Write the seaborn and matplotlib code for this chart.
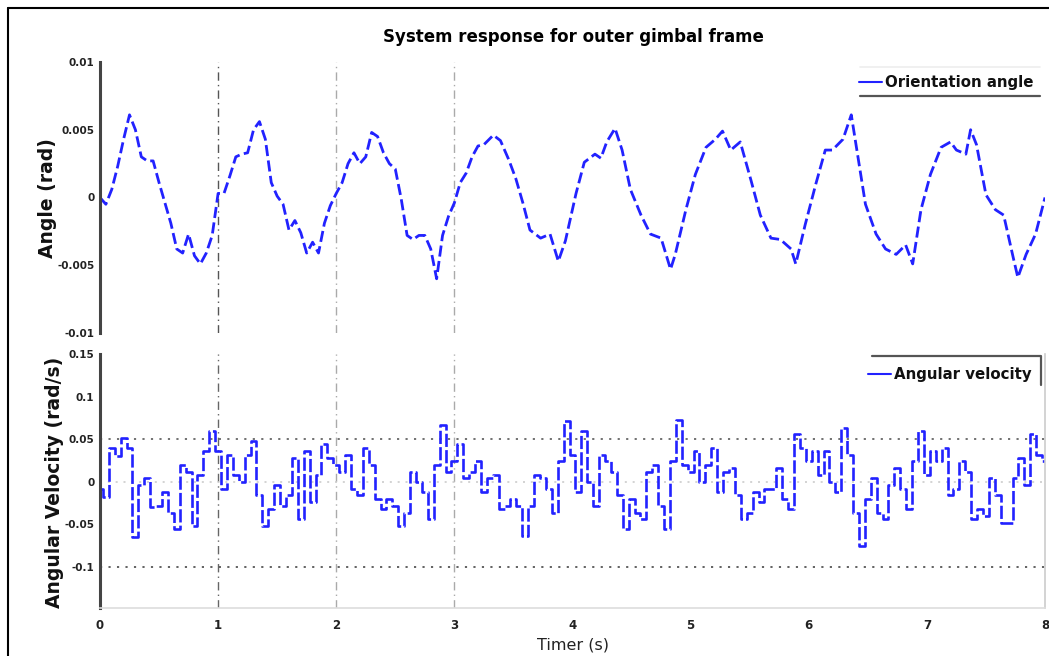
import numpy as np
import pandas as pd
import matplotlib
matplotlib.use("Agg")
import matplotlib.pyplot as plt
import seaborn as sns
from matplotlib.lines import Line2D

# ---------------- data ----------------
angle_t = [0.0, 0.05, 0.1, 0.15, 0.2, 0.25, 0.3, 0.35, 0.4, 0.45, 0.5, 0.55, 0.6, 0.65,
           0.7, 0.75, 0.8, 0.85, 0.9, 0.95, 1.0, 1.05, 1.1, 1.15, 1.2, 1.25, 1.3, 1.35,
           1.4, 1.45, 1.5, 1.55, 1.6, 1.65, 1.7, 1.75, 1.8, 1.85, 1.9, 1.95, 2.0, 2.05,
           2.1, 2.15, 2.2, 2.25, 2.3, 2.35, 2.4, 2.45, 2.5, 2.55, 2.6, 2.65, 2.7, 2.75,
           2.8, 2.85, 2.9, 2.95, 3.0, 3.05, 3.1, 3.15, 3.2, 3.25,
           3.33, 3.39, 3.46, 3.52, 3.58, 3.64, 3.73, 3.81, 3.88, 3.94, 4.03, 4.1, 4.19,
           4.24, 4.29, 4.36, 4.42, 4.49, 4.58, 4.66, 4.75, 4.83, 4.87, 4.96, 5.04, 5.13,
           5.21, 5.27, 5.34, 5.42, 5.51, 5.59, 5.68, 5.76, 5.85, 5.89, 5.97, 6.06, 6.14,
           6.2, 6.29, 6.36, 6.42, 6.48, 6.57, 6.65, 6.74, 6.82, 6.88, 6.95, 7.03, 7.12,
           7.2, 7.25, 7.33, 7.37, 7.42, 7.5, 7.58, 7.65, 7.73, 7.77, 7.84, 7.92, 8.0]
angle_v = [0.0, -0.0005, 0.0006, 0.0023, 0.0043, 0.0061, 0.005, 0.003, 0.0027, 0.0027,
           0.0011, -0.0004, -0.0019, -0.0038, -0.0041, -0.0027, -0.0043, -0.0049, -0.0041,
           -0.0028, 0.0003, 0.0003, 0.0016, 0.003, 0.0032, 0.0033, 0.005, 0.0056, 0.0043,
           0.0011, 0.0001, -0.0005, -0.0024, -0.0017, -0.0026, -0.0041, -0.0033, -0.0041,
           -0.0019, -0.0006, 0.0003, 0.0011, 0.0025, 0.0033, 0.0025, 0.003, 0.0048, 0.0045,
           0.0033, 0.0025, 0.0021, -0.0001, -0.0028, -0.0031, -0.0028, -0.0028, -0.0038,
           -0.006, -0.0028, -0.0014, -0.0004, 0.0011, 0.0018, 0.003, 0.0038, 0.0039,
           0.0046, 0.0042, 0.0028, 0.0014, -0.0004, -0.0024, -0.003, -0.0027, -0.0047,
           -0.0032, 0.0003, 0.0026, 0.0032, 0.0029, 0.0041, 0.0051, 0.0035, 0.0006,
           -0.0013, -0.0027, -0.003, -0.0053, -0.0042, -0.0009, 0.0017, 0.0037, 0.0043,
           0.0049, 0.0035, 0.0041, 0.0013, -0.0013, -0.003, -0.0031, -0.0038, -0.0049,
           -0.002, 0.001, 0.0035, 0.0035, 0.0043, 0.0061, 0.0028, -0.0005, -0.0027,
           -0.0038, -0.0042, -0.0035, -0.0049, -0.0009, 0.0017, 0.0037, 0.0041, 0.0035,
           0.0032, 0.005, 0.0039, 0.0002, -0.0009, -0.0013, -0.0044, -0.0059, -0.0042,
           -0.0027, 0.0]

vel_t = [round(0.05 * i, 2) for i in range(161)]
vel_v = [-0.008, -0.018, 0.04, 0.03, 0.052, 0.04, -0.065, -0.004, 0.004, -0.03,
         -0.028, -0.012, -0.036, -0.055, 0.02, 0.012, -0.052, 0.008, 0.036, 0.06, 0.036,
         -0.008, 0.032, 0.008, 0.0, 0.032, 0.048, -0.016, -0.052, -0.032, -0.004,
         -0.028, -0.016, 0.028, -0.044, 0.036, -0.024, 0.008, 0.044, 0.028, 0.02,
         0.012, 0.032, -0.008, -0.016, 0.04, 0.02, -0.02, -0.032, -0.02, -0.028,
         -0.052, -0.036, 0.012, 0.0, -0.012, -0.044, 0.02, 0.067, 0.012, 0.024,
         0.044, 0.004, 0.012, 0.024, -0.012, 0.004, 0.008, -0.032, -0.028, -0.02,
         -0.028, -0.064, -0.028, 0.008, 0.004, -0.008, -0.036, 0.024, 0.071, 0.032,
         -0.012, 0.06, 0.0, -0.028, 0.032, 0.024, 0.012, -0.016, -0.055, -0.02,
         -0.036, -0.044, 0.012, 0.02, -0.028, -0.055, 0.024, 0.072, 0.02, 0.012,
         0.036, 0.0, 0.02, 0.04, -0.012, 0.012, 0.016, -0.016, -0.044, -0.036,
         -0.012, -0.024, -0.008, -0.008, 0.016, -0.02, -0.032, 0.056, 0.04, 0.024,
         0.036, 0.008, 0.036, 0.0, -0.012, 0.063, 0.032, -0.036, -0.075, -0.02,
         0.004, -0.036, -0.044, -0.004, 0.016, -0.008, -0.032, 0.024, 0.06, 0.008,
         0.036, 0.024, 0.04, -0.016, -0.008, 0.024, 0.012, -0.044, -0.032, -0.04,
         0.004, -0.016, -0.048, -0.048, 0.004, 0.028, -0.004, 0.056, 0.032, 0.024]

top_yticks = [0.01, 0.005, 0, -0.005, -0.01]
top_yticklabels = ["0.01", "0.005", "0", "-0.005", "-0.01"]
bot_yticks = [0.15, 0.1, 0.05, 0, -0.05, -0.1]
bot_yticklabels = ["0.15", "0.1", "0.05", "0", "-0.05", "-0.1"]
xticks = [0, 1, 2, 3, 4, 5, 6, 7, 8]
vlines_t = [1, 2, 3]

title = "System response for outer gimbal frame"
legend_top = "Orientation angle"
legend_bot = "Angular velocity"
ylabel_top = "Angle (rad)"
ylabel_bot = "Angular Velocity (rad/s)"
xlabel = "Timer (s)"

# ---------------- style ----------------
sns.set_theme(style="white")
plt.rcParams['font.family'] = ['DejaVu Sans']
plt.rcParams['text.color'] = '#111111'
narrow = ['Liberation Sans Narrow', 'DejaVu Sans']
BLUE = '#2222ff'

fig = plt.figure(figsize=(10.49, 6.56), dpi=100)
ax1 = fig.add_axes([0.0953, 0.4924, 0.9009, 0.4131])
ax2 = fig.add_axes([0.0953, 0.0732, 0.9009, 0.3872])

df_a = pd.DataFrame({"t": angle_t, "v": angle_v})
df_w = pd.DataFrame({"t": vel_t, "w": vel_v})

sns.lineplot(data=df_a, x="t", y="v", ax=ax1, color=BLUE, lw=2.0,
             linestyle=(0, (4, 1.6)), label=legend_top, legend=False)
sns.lineplot(data=df_w, x="t", y="w", ax=ax2, color=BLUE, lw=1.9,
             linestyle=(0, (5, 1.2)), drawstyle='steps-mid', label=legend_bot,
             legend=False)

for ax in (ax1, ax2):
    ax.set_xlim(0, 8)
    for sp in ax.spines.values():
        sp.set_visible(False)
    ax.spines['left'].set_visible(True)
    ax.spines['left'].set_color('#444444')
    ax.spines['left'].set_linewidth(2.2)
    ax.set_xlabel("")
    ax.set_ylabel("")

# top axes
ax1.set_ylim(-0.01, 0.01)
ax1.set_yticks(top_yticks)
ax1.set_yticklabels(top_yticklabels)
ax1.set_xticks([])
for i, t in enumerate(vlines_t):
    ax1.axvline(t, color='#555555' if i == 0 else '#aaaaaa', lw=1.0,
                linestyle=(0, (6, 3, 1, 3)), zorder=0)

# bottom axes
ax2.set_ylim(-0.148, 0.15)
ax2.set_yticks(bot_yticks)
ax2.set_yticklabels(bot_yticklabels)
ax2.set_xticks(xticks)
ax2.set_xticklabels([str(x) for x in xticks])
ax2.spines['bottom'].set_visible(True)
ax2.spines['bottom'].set_color('#dddddd')
ax2.spines['bottom'].set_linewidth(1.2)
ax2.spines['right'].set_visible(True)
ax2.spines['right'].set_color('#cccccc')
ax2.spines['right'].set_linewidth(1.2)
for i, t in enumerate(vlines_t):
    ax2.axvline(t, color='#666666' if i == 0 else '#aaaaaa', lw=1.0,
                linestyle=(0, (6, 3, 1, 3)), zorder=0)
ax2.axhline(0.05, color='#666666', lw=1.3, linestyle=(0, (1.2, 3.5)), zorder=0)
ax2.axhline(-0.1, color='#555555', lw=1.3, linestyle=(0, (1.2, 3.5)), zorder=0)
ax2.axhline(0.0, color='#cccccc', lw=1.2, linestyle=(0, (1.2, 3.5)), zorder=0)

for ax in (ax1, ax2):
    ax.tick_params(axis='y', length=0, pad=4, labelsize=7.5, labelcolor='#222222')
    for lab in ax.get_yticklabels():
        lab.set_fontweight('bold')
        lab.set_family(narrow)
ax2.tick_params(axis='x', direction='in', length=7, width=1.0, color='#bbbbbb',
                pad=8, labelsize=8.5, labelcolor='#222222')
for lab in ax2.get_xticklabels():
    lab.set_fontweight('bold')
    lab.set_family(narrow)

# legends
h1 = [Line2D([], [], color=BLUE, lw=1.5)]
leg1 = ax1.legend(h1, [legend_top], loc='upper right', bbox_to_anchor=(0.997, 0.985),
                  frameon=False, handlelength=1.5, handletextpad=0.2, borderaxespad=0.2,
                  prop={'weight': 'bold', 'size': 10.8})
ax1.add_line(Line2D([0.804, 0.995], [0.8745, 0.8745], transform=ax1.transAxes,
                    color='#555555', lw=1.6, clip_on=False))
ax1.add_line(Line2D([0.804, 0.995], [0.982, 0.982], transform=ax1.transAxes,
                    color='#eeeeee', lw=1.2, clip_on=False))
h2 = [Line2D([], [], color=BLUE, lw=1.5)]
leg2 = ax2.legend(h2, [legend_bot], loc='upper right', bbox_to_anchor=(0.995, 0.985),
                  frameon=False, handlelength=1.5, handletextpad=0.2, borderaxespad=0.2,
                  prop={'weight': 'bold', 'size': 10.8})
ax2.add_line(Line2D([0.817, 0.996, 0.996], [0.992, 0.992, 0.878], transform=ax2.transAxes,
                    color='#555555', lw=1.6, clip_on=False))

# labels and title
fig.text(0.547, 0.944, title, ha='center', va='center', fontsize=12, fontweight='bold',
         color='black')
fig.text(0.045, 0.698, ylabel_top, rotation=90, ha='center', va='center',
         fontsize=13.5, fontweight='bold', color='#111111')
fig.text(0.052, 0.264, ylabel_bot, rotation=90, ha='center', va='center',
         fontsize=13.5, fontweight='bold', color='#111111')
fig.text(0.546, 0.017, xlabel, ha='center', va='center', fontsize=11.5,
         family=narrow, color='#222222')

# figure frame (left and top)
fig.add_artist(Line2D([0.008, 0.008], [0.0, 0.988], transform=fig.transFigure,
                      color='black', lw=1.5))
fig.add_artist(Line2D([0.008, 1.0], [0.988, 0.988], transform=fig.transFigure,
                      color='black', lw=1.5))

fig.savefig("out.png", dpi=100)
